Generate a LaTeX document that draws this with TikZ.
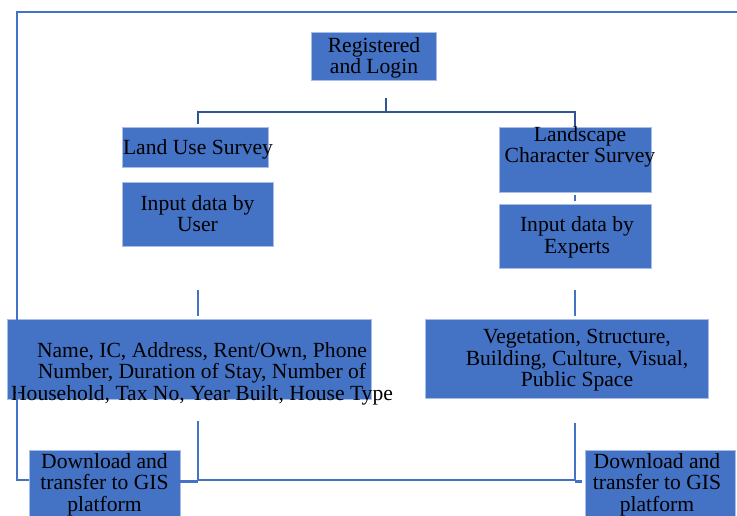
\documentclass[tikz,border=0pt]{standalone}
\usepackage{fontspec}
\setmainfont{Liberation Serif}
\begin{document}
\begin{tikzpicture}[x=1pt,y=-1pt,
  box/.style={rectangle, fill=boxblue, draw=boxedge, line width=0.6pt, inner sep=0pt, outer sep=0pt},
  txt/.style={align=center, inner sep=0pt, font=\fontsize{21.6}{21.6}\selectfont, text=black},
  link/.style={draw=lineblue, line width=2pt},
  tree/.style={draw=treeblue, line width=2.4pt},
  stub/.style={draw=lineblue, line width=3pt}]
\definecolor{boxblue}{HTML}{4472C4}
\definecolor{boxedge}{HTML}{A9BEE6}
\definecolor{lineblue}{HTML}{4472C4}
\definecolor{treeblue}{HTML}{2F5597}
\useasboundingbox (0,0) rectangle (737,515);
\clip (0,0) rectangle (737,515);
% boxes
\node[box, minimum width=125, minimum height=48] (login) at (373.5,56) {};
\node[txt] (logint) at (374,58) {Registered\\and Login};
\node[box, minimum width=146, minimum height=40] (land) at (195,147) {};
\node[txt] (landt) at (198,149) {Land Use Survey};
\node[box, minimum width=151, minimum height=64] (user) at (197.5,214) {};
\node[txt] (usert) at (197.5,213.5) {Input data by\\User};
\node[box, minimum width=152, minimum height=65] (lcs) at (575,159.5) {};
\node[txt] (lcst) at (580,147) {Landscape\\Character Survey};
\node[box, minimum width=152, minimum height=64] (exp) at (575,236) {};
\node[txt] (expt) at (577,237) {Input data by\\Experts};
\node[box, minimum width=364, minimum height=80] (name) at (189,359) {};
\node[txt] (namet) at (202,373.5) {Name, IC, Address, Rent/Own, Phone\\Number, Duration of Stay, Number of\\Household, Tax No, Year Built, House Type};
\node[box, minimum width=283, minimum height=79] (veg) at (566.5,358.5) {};
\node[txt] (vegt) at (577,360.5) {Vegetation, Structure,\\Building, Culture, Visual,\\Public Space};
\node[box, minimum width=151, minimum height=70] (dla) at (104.5,485) {};
\node[txt] (dlat) at (104.5,484.5) {Download and\\transfer to GIS\\platform};
\node[box, minimum width=150, minimum height=70] (dlb) at (660,485) {};
\node[txt] (dlbt) at (657,484.5) {Download and\\transfer to GIS\\platform};
% coordinates
\coordinate (tA) at (386,98);
\coordinate (tB) at (386,112);
\coordinate (tL) at (198,112);
\coordinate (tR) at (575,112);
\coordinate (uA) at (198,290);
\coordinate (uB) at (198,316);
\coordinate (eA) at (575,290);
\coordinate (eB) at (575,316);
\coordinate (nA) at (198,421);
\coordinate (nB) at (198,481);
\coordinate (vA) at (575,423);
\coordinate (vB) at (575,481);
\coordinate (lA) at (17,480);
\coordinate (lB) at (17,12);
\coordinate (lC) at (737,12);
% tree from login
\draw[tree] (tA) -- (tB);
\draw[tree] (tL |- land.north) ++(0,-3) -- (tL) -- (tR) -- ++(0,14);
\draw[link, line width=2.4pt, shorten <=3pt, shorten >=3pt] (lcs.south) -- (exp.north);
% data connectors
\draw[link] (uA) -- (uB);
\draw[link] (eA) -- (eB);
\draw[link] (nA) -- (nB);
\draw[link] (vA) -- (vB);
\draw[stub] (nB) -- (nB -| dla.east) ++(3,0);
\draw[stub] (vB) -- ++(7,0);
\draw[link, line width=1.6pt] (nB |- 0,480) -- (vB |- 0,480);
% outer loop
\draw[link] (dla.west |- lA) -- (lA) -- (lB) -- (lC);
\end{tikzpicture}
\end{document}
